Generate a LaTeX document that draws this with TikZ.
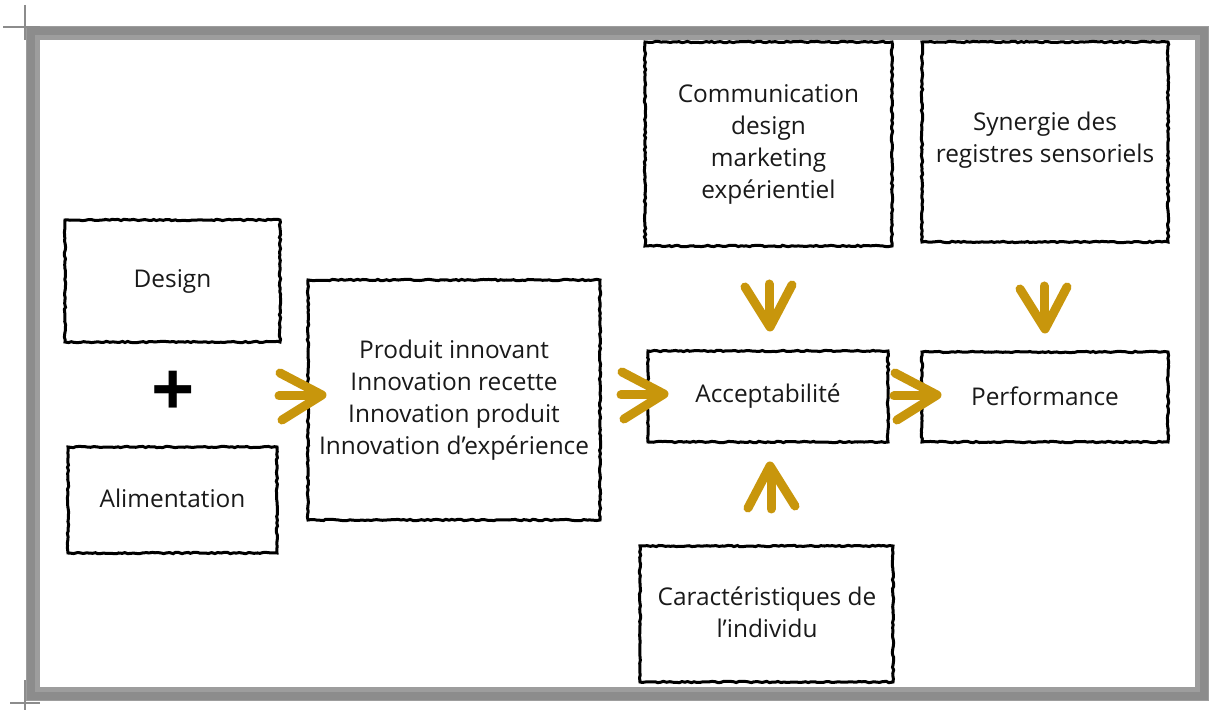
\documentclass[tikz,border=0pt]{standalone}
\usepackage{fontspec}
\setmainfont{Open Sans}
\usetikzlibrary{decorations.pathmorphing}
\definecolor{gold}{RGB}{200,150,12}
\definecolor{framegray}{RGB}{140,140,140}
\tikzset{
  box/.style={draw=black, line width=1.5pt, align=center, inner sep=2pt,
    decorate, decoration={random steps, segment length=1.5pt, amplitude=0.35pt}},
  lbl/.style={align=center, font=\fontsize{12.2}{16}\selectfont, text=black!90},
  chevstroke/.style={draw=gold, line width=4.5pt, line cap=round, line join=round},
  chev/.pic={
    \draw[chevstroke] (-42,-22) -- (0,0) -- (-40,25);
    \draw[chevstroke] (-43,1) -- (-8,1);
  }
}
\begin{document}
\begin{tikzpicture}[x=0.5pt,y=-0.5pt]
\useasboundingbox (0,0) rectangle (1212,710);
% frame
\draw[framegray!85, line width=7pt] (33,33) rectangle (1202,694);
\draw[framegray, line width=4pt] (31,31) rectangle (1204,696);
\draw[framegray, line width=0.8pt] (3,27) -- (40,27) (25,5) -- (25,40);
\draw[framegray, line width=0.8pt] (10,703) -- (40,703) (25,680) -- (25,710);

% boxes
\node[box, minimum width=107.5pt, minimum height=61pt] (design) at (172.5,281) {};
\node[lbl] (designt) at (172.5,281) {Design};
\node[box, minimum width=104.5pt, minimum height=53pt] (alim) at (172.5,500) {};
\node[lbl] (alimt) at (172.5,498) {Alimentation};
\node[font=\fontsize{38}{38}\selectfont\bfseries] (plus) at (173,394) {+};

\node[box, minimum width=146pt, minimum height=120pt] (prod) at (454,400) {};
\node[lbl] (prodt) at (454,400) {Produit innovant\\Innovation recette\\Innovation produit\\Innovation d’expérience};

\node[box, minimum width=123.5pt, minimum height=102pt] (comm) at (768.5,144) {};
\node[lbl] (commt) at (768.5,144.5) {Communication\\design\\marketing\\expérientiel};

\node[box, minimum width=123pt, minimum height=100pt] (syn) at (1045,142) {};
\node[lbl] (synt) at (1045,140.5) {Synergie des\\registres sensoriels};

\node[box, minimum width=120pt, minimum height=45.5pt] (acc) at (768,396.5) {};
\node[lbl] (acct) at (768,396) {Acceptabilité};

\node[box, minimum width=123pt, minimum height=45pt] (perf) at (1045,397) {};
\node[lbl] (perft) at (1045,396) {Performance};

\node[box, minimum width=126.5pt, minimum height=68pt] (car) at (766.5,614) {};
\node[lbl] (cart) at (767,612.5) {Caractéristiques de\\l’individu};

% gold chevron arrows
\pic at (322,395) {chev};
\pic at (664,394) {chev};
\pic at (937,395) {chev};
\pic[rotate=-90] at (770,327) {chev};
\pic[rotate=-90] at (1045,329) {chev};
\pic[rotate=90] at (770,466) {chev};
\end{tikzpicture}
\end{document}
